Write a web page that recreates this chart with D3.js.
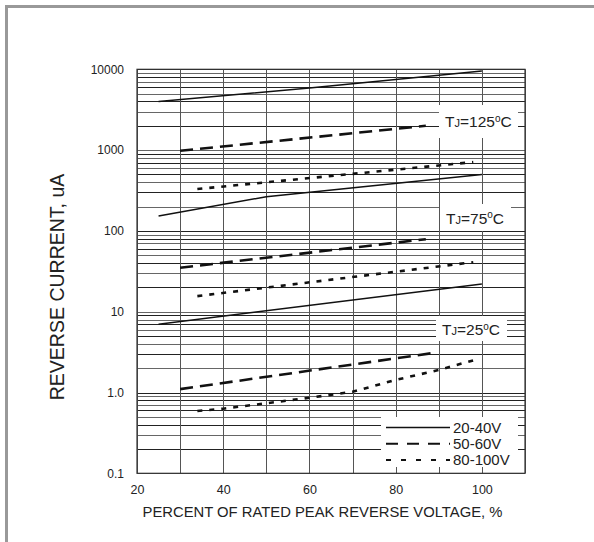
<!DOCTYPE html>
<html>
<head>
<meta charset="utf-8">
<script src="https://cdn.jsdelivr.net/npm/d3@7"></script>
<style>
  html, body { margin: 0; padding: 0; background: #fff; }
  svg { display: block; font-family: "Liberation Sans", Arial, sans-serif; }
</style>
</head>
<body>
<svg id="chart" width="594" height="542"></svg>
<script>
// ---- data ----
const xTicks = [20, 40, 60, 80, 100];
const yTicks = [0.1, 1, 10, 100, 1000, 10000];
const yTickLabels = ["0.1", "1.0", "10", "100", "1000", "10000"];
const legendLabels = ["20-40V", "50-60V", "80-100V"];
const tempLabels = ["125", "75", "25"];

// Tj = 125 C
const pct_125_2040 = [25, 60, 100];
const cur_125_2040 = [4000, 5850, 9500];
const pct_125_5060 = [30, 87];
const cur_125_5060 = [980, 2000];
const pct_125_80100 = [34, 98];
const cur_125_80100 = [330, 710];
// Tj = 75 C
const pct_75_2040 = [25, 50, 100];
const cur_75_2040 = [153, 265, 500];
const pct_75_5060 = [30, 87];
const cur_75_5060 = [35, 79];
const pct_75_80100 = [34, 98];
const cur_75_80100 = [15.6, 41];
// Tj = 25 C
const pct_25_2040 = [25, 100];
const cur_25_2040 = [7, 22];
const pct_25_5060 = [30, 89];
const cur_25_5060 = [1.1, 3.1];
const pct_25_80100 = [34, 40, 60, 70, 80, 90, 98];
const cur_25_80100 = [0.59, 0.63, 0.86, 1.02, 1.43, 1.9, 2.5];

// ---- layout ----
const svg = d3.select("#chart");
const L = 137, R = 525, T = 69.3, B = 473.3;
const x = d3.scaleLinear().domain([20, 110]).range([L, R]);
const y = d3.scaleLog().domain([0.1, 10000]).range([B, T]);

// page frame (top + left)
svg.append("path")
  .attr("d", "M5,6.5H594M6.5,6V542")
  .attr("fill", "none").attr("stroke", "#999").attr("stroke-width", 3);

// grid
const g = svg.append("g");
const hVals = [];
for (let d = 0.1; d < 10000; d *= 10) {
  for (let k = 1; k <= 9; k++) hVals.push(+(d * k).toPrecision(3));
}
hVals.push(10000);
g.selectAll("line.h").data(hVals).enter().append("line")
  .attr("x1", L).attr("x2", R)
  .attr("y1", d => Math.round(y(d)) + 0.5).attr("y2", d => Math.round(y(d)) + 0.5)
  .attr("stroke", (d, i) => (i % 2 ? "#222" : "#666")).attr("stroke-width", 1);
g.selectAll("line.v").data(d3.range(20, 111, 10)).enter().append("line")
  .attr("y1", T).attr("y2", B)
  .attr("x1", d => Math.round(x(d)) + 0.5).attr("x2", d => Math.round(x(d)) + 0.5)
  .attr("stroke", "#555").attr("stroke-width", 1);
g.append("rect").attr("x", L).attr("y", T).attr("width", R - L).attr("height", B - T)
  .attr("fill", "none").attr("stroke", "#333").attr("stroke-width", 1.2);

// axes labels
const yAxis = d3.axisLeft(y).tickValues(yTicks)
  .tickFormat((d, i) => yTickLabels[i]).tickSize(0).tickPadding(13);
const ya = svg.append("g").attr("transform", `translate(${L},0)`).call(yAxis);
ya.select(".domain").remove();
ya.selectAll("text").attr("font-size", 12).attr("fill", "#222")
  .attr("font-family", "'Liberation Sans', Arial, sans-serif");

const xAxis = d3.axisBottom(x).tickValues(xTicks).tickSize(0).tickPadding(12);
const xa = svg.append("g").attr("transform", `translate(0,${B})`).call(xAxis);
xa.select(".domain").remove();
xa.selectAll("text").attr("font-size", 12.5).attr("fill", "#222")
  .attr("font-family", "'Liberation Sans', Arial, sans-serif");

svg.append("text").attr("x", 322.5).attr("y", 517).attr("text-anchor", "middle")
  .attr("font-size", 14.8).attr("fill", "#222")
  .text("PERCENT OF RATED PEAK REVERSE VOLTAGE, %");
svg.append("text").attr("transform", "translate(64,287) rotate(-90)")
  .attr("text-anchor", "middle").attr("font-size", 19.5).attr("fill", "#222")
  .text("REVERSE CURRENT, uA");

// temperature label boxes
const labelBoxes = [
  { t: tempLabels[0], bx: 439, by: 105, bw: 79, bh: 33, tx: 445, ty: 127 },
  { t: tempLabels[1], bx: 440, by: 204, bw: 71, bh: 27, tx: 446, ty: 223.5 },
  { t: tempLabels[2], bx: 436, by: 316, bw: 71, bh: 25, tx: 442, ty: 335 }
];
labelBoxes.forEach(b => {
  svg.append("rect").attr("x", b.bx).attr("y", b.by).attr("width", b.bw).attr("height", b.bh)
    .attr("fill", "#fff");
  const t = svg.append("text").attr("x", b.tx).attr("y", b.ty)
    .attr("font-size", 15.5).attr("fill", "#222");
  t.append("tspan").text("T");
  t.append("tspan").attr("font-size", 11).text("J");
  t.append("tspan").text("=" + b.t);
  t.append("tspan").attr("font-size", 10).attr("dy", -5.5).text("o");
  t.append("tspan").attr("dy", 5.5).text("C");
});

// series
const styles = [
  { dash: null, w: 1.5 },
  { dash: "13,7", w: 2.6 },
  { dash: "5,7", w: 2.6 }
];
const series = [
  [pct_125_2040, cur_125_2040, 0], [pct_125_5060, cur_125_5060, 1], [pct_125_80100, cur_125_80100, 2],
  [pct_75_2040, cur_75_2040, 0], [pct_75_5060, cur_75_5060, 1], [pct_75_80100, cur_75_80100, 2],
  [pct_25_2040, cur_25_2040, 0], [pct_25_5060, cur_25_5060, 1], [pct_25_80100, cur_25_80100, 2]
];
const line = d3.line().x(d => x(d[0])).y(d => y(d[1]));
series.forEach(([px, cy, s]) => {
  const pts = px.map((p, i) => [p, cy[i]]);
  svg.append("path").attr("d", line(pts)).attr("fill", "none")
    .attr("stroke", "#111").attr("stroke-width", styles[s].w)
    .attr("stroke-dasharray", styles[s].dash);
});

// legend
svg.append("rect").attr("x", 381).attr("y", 417).attr("width", 137).attr("height", 50)
  .attr("fill", "#fff");
const legDash = [null, "12,9", "5,10"];
legendLabels.forEach((lab, i) => {
  const ly = 427.5 + i * 16.3;
  svg.append("line").attr("x1", 386).attr("x2", 450).attr("y1", ly).attr("y2", ly)
    .attr("stroke", "#111").attr("stroke-width", i === 0 ? 1.5 : 2)
    .attr("stroke-dasharray", legDash[i]);
  svg.append("text").attr("x", 453).attr("y", ly + 5).attr("font-size", 15)
    .attr("fill", "#222").text(lab);
});
</script>
</body>
</html>
